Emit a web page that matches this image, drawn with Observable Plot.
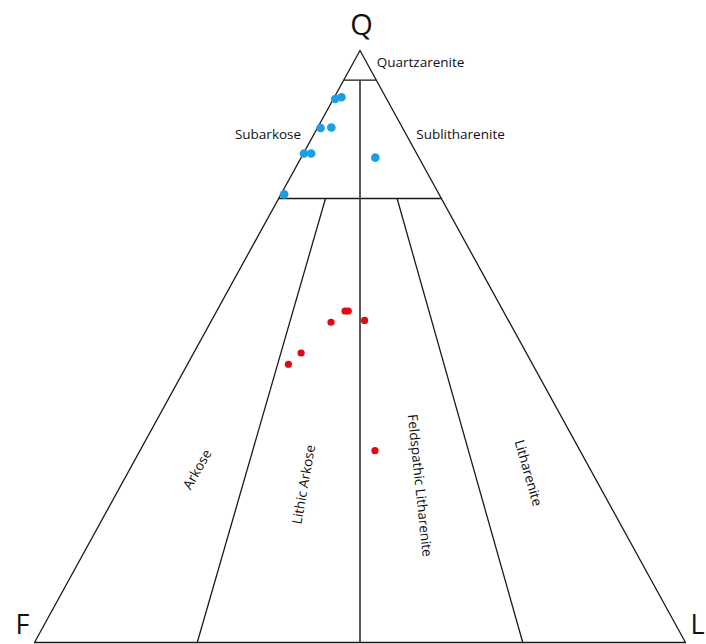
<!DOCTYPE html>
<html>
<head>
<meta charset="utf-8">
<script src="https://cdn.jsdelivr.net/npm/d3@7"></script>
<script src="https://cdn.jsdelivr.net/npm/@observablehq/plot@0.6"></script>
<style>
  html, body { margin: 0; padding: 0; background: #fff; }
  svg { display: block; }
</style>
</head>
<body>
<div id="chart"></div>
<script>
// Vertex names
const vertexNames = ["Q", "F", "L"];

// Sample compositions, percent [Q, F, L]
const blueSamples = [
  [91.8, 7.9, 0.3],
  [92.1, 6.8, 1.1],
  [86.9, 12.6, 0.5],
  [87.0, 10.9, 2.1],
  [82.6, 17.3, 0.1],
  [82.6, 16.2, 1.2],
  [81.9, 6.7, 11.4],
  [75.7, 23.8, 0.5]
];
const redSamples = [
  [56.0, 24.3, 19.7],
  [56.0, 23.8, 20.2],
  [54.1, 27.4, 18.5],
  [54.4, 22.1, 23.5],
  [48.9, 34.6, 16.5],
  [47.0, 37.5, 15.5],
  [32.4, 31.5, 36.1]
];

// Classification boundaries (Folk), endpoints as [Q, F, L]
const outline = [[100, 0, 0], [0, 100, 0], [0, 0, 100], [100, 0, 0]];
const boundaryLines = [
  { from: [95, 5, 0],       to: [95, 0, 5] },
  { from: [75, 25, 0],      to: [75, 0, 25] },
  { from: [75, 17.8, 7.2],  to: [0, 75, 25] },
  { from: [75, 6.8, 18.2],  to: [0, 25, 75] }
];
const centerLine = [{ from: [95, 2.5, 2.5], to: [0, 50, 50] }];

// Field names and where they sit in the diagram frame (x across base, y = Q fraction)
const fieldNames = ["Quartzarenite", "Subarkose", "Sublitharenite", "Arkose", "Lithic Arkose", "Feldspathic Litharenite", "Litharenite"];
const fieldX     = [0.593, 0.3587, 0.6544, 0.2504, 0.414, 0.5914, 0.7581];
const fieldY     = [0.9797, 0.8581, 0.8581, 0.2922, 0.2669, 0.2652, 0.2863];
const fieldAngle = [0, 0, 0, -60, -80, 84, 74];

function toXY([q, f, l]) {
  const s = q + f + l;
  return { x: (l + q / 2) / s, y: q / s };
}

const outlinePts = outline.map(toXY);
const linkData = boundaryLines.map(d => {
  const a = toXY(d.from), b = toXY(d.to);
  return { x1: a.x, y1: a.y, x2: b.x, y2: b.y };
});
const centerData = centerLine.map(d => {
  const a = toXY(d.from), b = toXY(d.to);
  return { x1: a.x, y1: a.y, x2: b.x, y2: b.y };
});
const bluePts = blueSamples.map(toXY);
const redPts = redSamples.map(toXY);
const fields = fieldNames.map((name, i) => ({ name, x: fieldX[i], y: fieldY[i], rotate: fieldAngle[i] }));
const vertices = [
  { name: vertexNames[0], ...toXY([100, 0, 0]), dx: 1.5, dy: -25, size: 29 },
  { name: vertexNames[1], ...toXY([0, 100, 0]), dx: -12, dy: -17, size: 27 },
  { name: vertexNames[2], ...toXY([0, 0, 100]), dx: 12, dy: -17, size: 27 }
];

const chart = Plot.plot({
  width: 706,
  height: 644,
  margin: 0,
  x: { domain: [0, 1], range: [34, 685], axis: null },
  y: { domain: [0, 1], range: [642, 50], axis: null },
  style: { fontFamily: "'Open Sans', sans-serif", background: "#fff", overflow: "visible" },
  marks: [
    Plot.line(outlinePts, { x: "x", y: "y", stroke: "#1a1a1a", strokeWidth: 1.3 }),
    Plot.link(linkData, { x1: "x1", y1: "y1", x2: "x2", y2: "y2", stroke: "#1a1a1a", strokeWidth: 1.3 }),
    Plot.link(centerData, { x1: "x1", y1: "y1", x2: "x2", y2: "y2", stroke: "#3c3c3c", strokeWidth: 1.7 }),
    Plot.dot(bluePts, { x: "x", y: "y", r: 4.3, fill: "#1a9fe2" }),
    Plot.dot(redPts, { x: "x", y: "y", r: 3.6, fill: "#e30613" }),
    Plot.text(fields, { x: "x", y: "y", text: "name", rotate: "rotate", fontSize: 13.5, fill: "#111", textAnchor: "middle", lineAnchor: "middle" }),
    ...vertices.map(v => Plot.text([v], { x: "x", y: "y", text: "name", dx: v.dx, dy: v.dy, fontSize: v.size, fill: "#111", textAnchor: "middle", lineAnchor: "middle" }))
  ]
});
document.getElementById("chart").appendChild(chart);
</script>
</body>
</html>
